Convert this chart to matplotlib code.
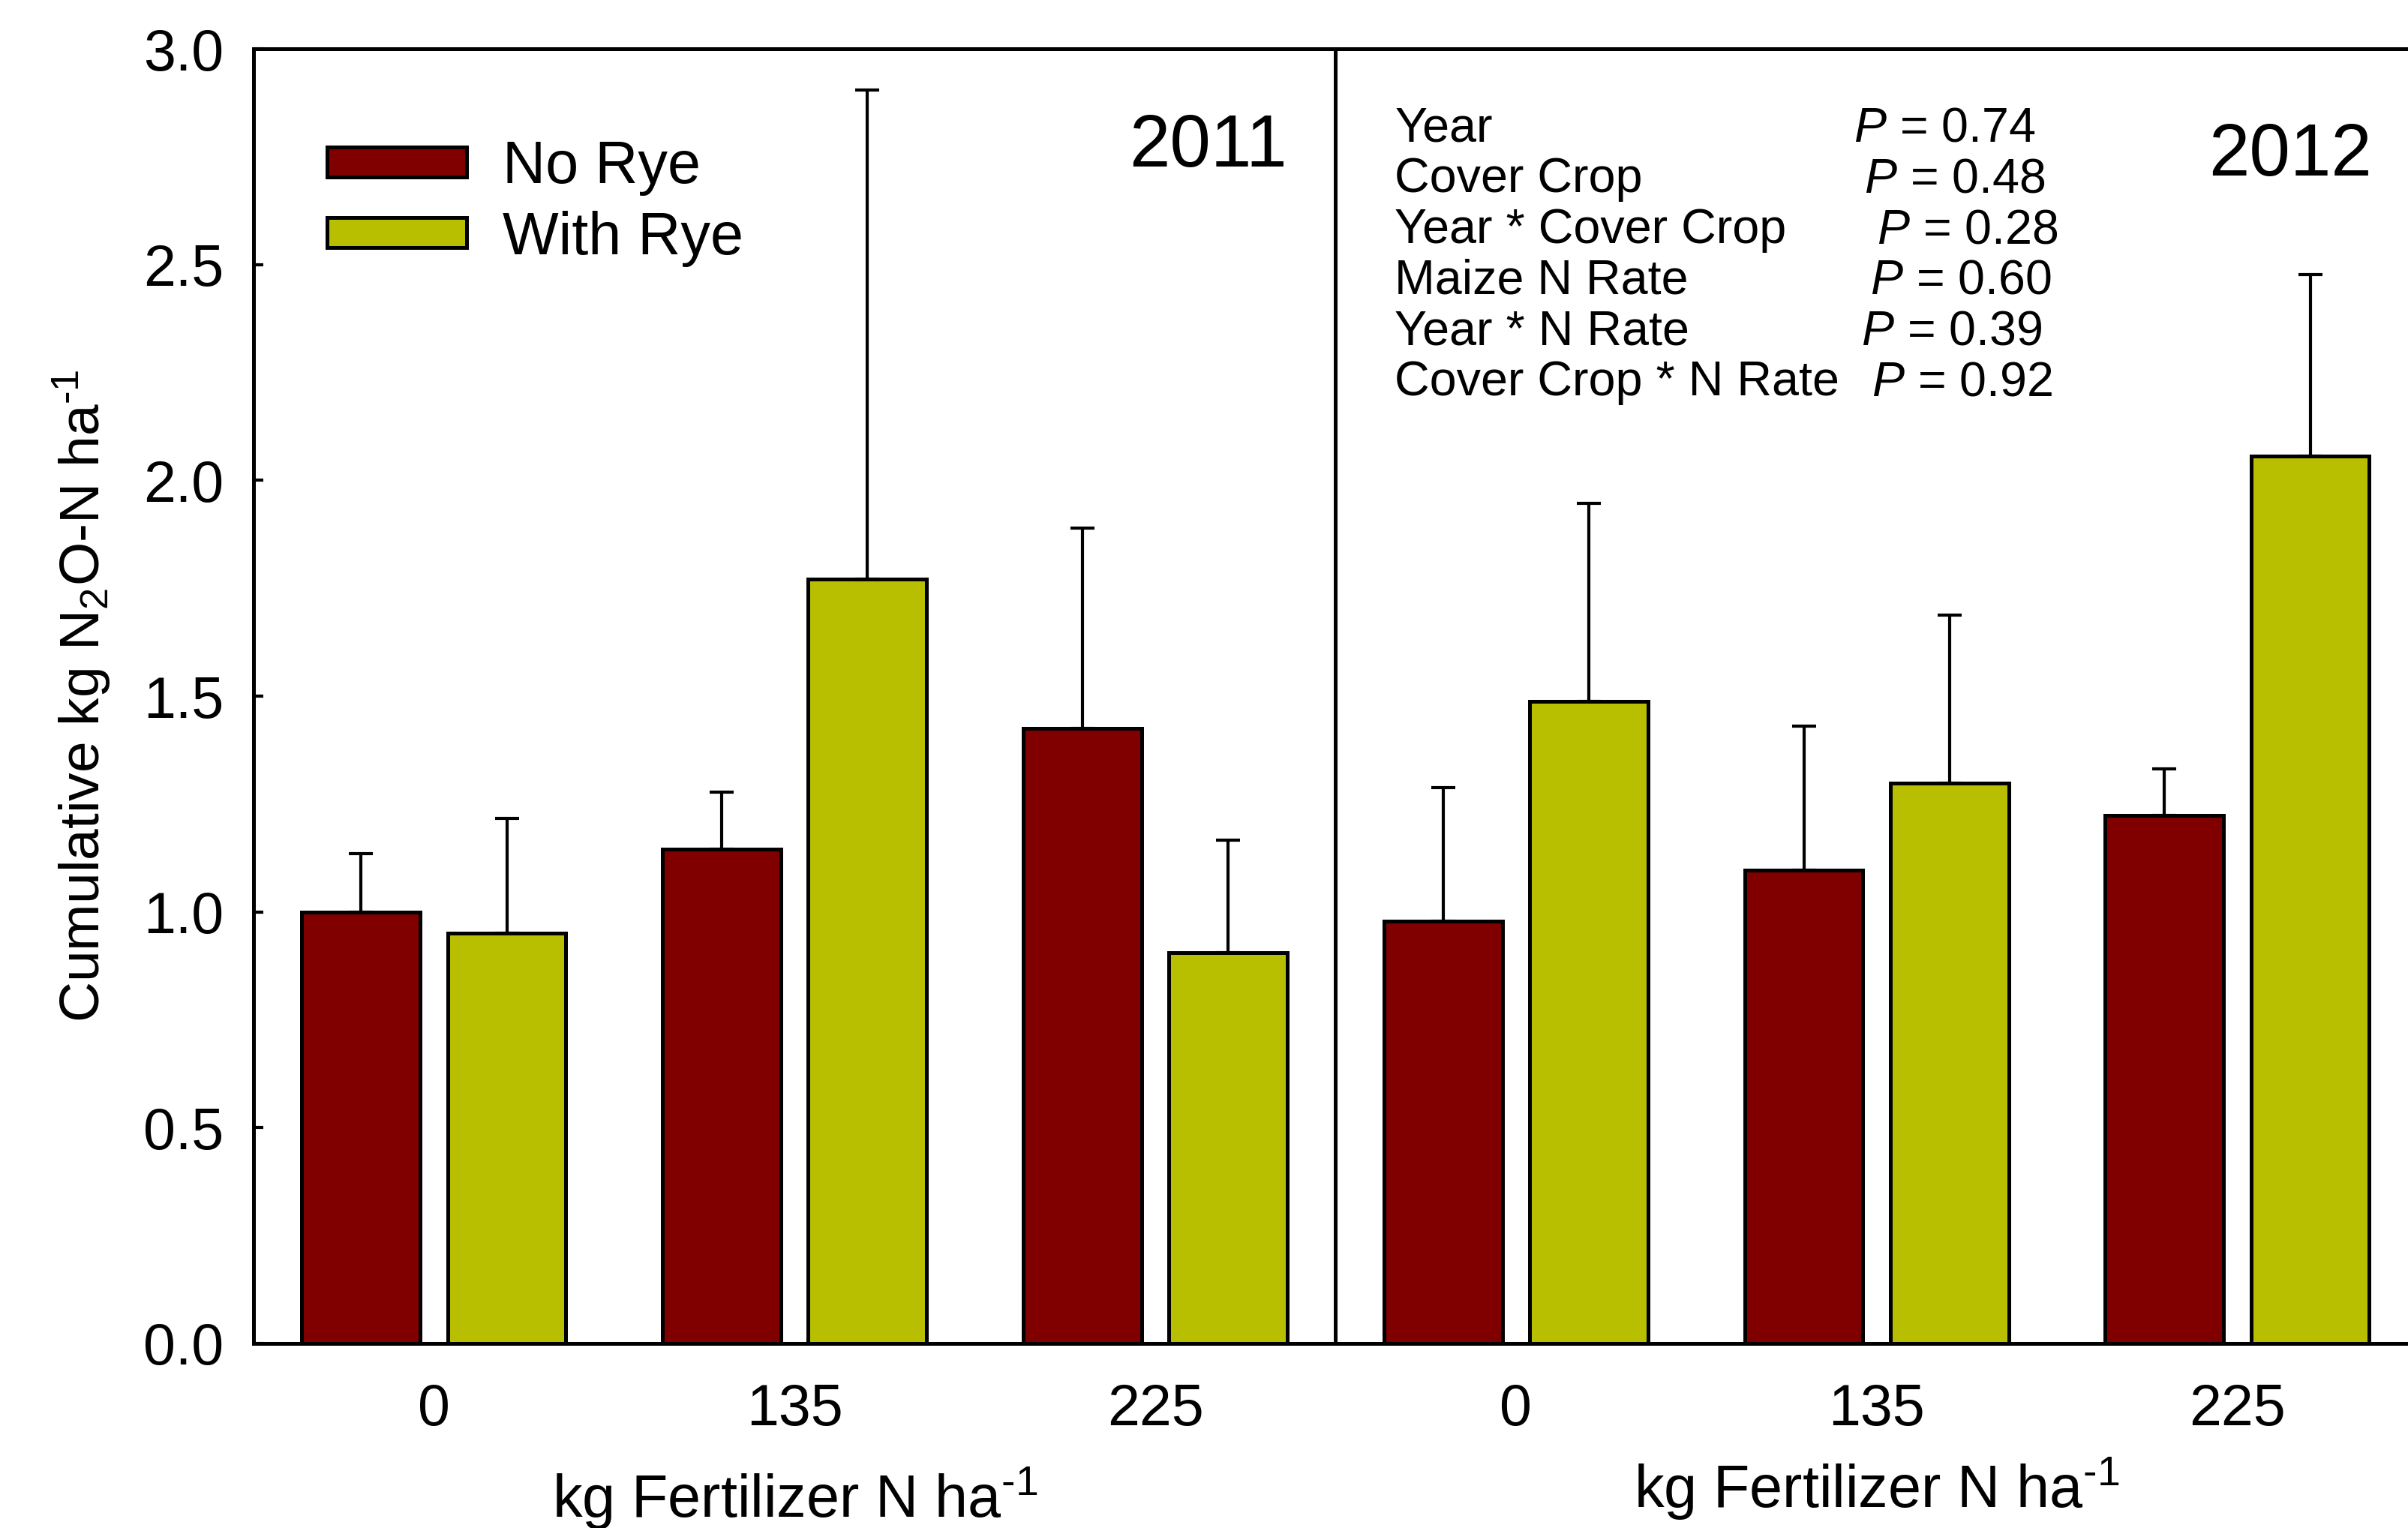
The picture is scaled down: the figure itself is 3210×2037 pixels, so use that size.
import numpy as np
import matplotlib
matplotlib.use("Agg")
import matplotlib.pyplot as plt

# N2O emissions by N rate, cover crop and year
n_rates = ["0", "135", "225", "0", "135", "225"]
years = ["2011", "2012"]
no_rye = [1.00, 1.145, 1.425, 0.979, 1.096, 1.224]
no_rye_se = [0.135, 0.133, 0.465, 0.309, 0.335, 0.107]
with_rye = [0.95, 1.772, 0.905, 1.488, 1.299, 2.057]
with_rye_se = [0.267, 1.132, 0.262, 0.459, 0.388, 0.420]

effects = ["Year", "Cover Crop", "Year * Cover Crop", "Maize N Rate",
           "Year * N Rate", "Cover Crop * N Rate"]
p_values = ["0.74", "0.48", "0.28", "0.60", "0.39", "0.92"]
p_xpos = [3.936, 3.966, 4.0, 3.983, 3.957, 3.987]

plt.rcParams['font.family'] = ['Liberation Sans', 'DejaVu Sans']
plt.rcParams['mathtext.fontset'] = 'custom'
plt.rcParams['mathtext.rm'] = 'Liberation Sans'
plt.rcParams['mathtext.it'] = 'Liberation Sans:italic'

fig = plt.figure(figsize=(10.7, 6.79), dpi=300)
ax = fig.add_axes([0.1053, 0.1208, 0.8987, 0.8472])

x = np.arange(len(n_rates))
width = 0.328
off = 0.202
c_no = '#800000'
c_with = '#B7BF00'

ax.bar(x - off, no_rye, width, color=c_no, edgecolor='black', linewidth=1.2,
       label='No Rye', zorder=3)
ax.bar(x + off, with_rye, width, color=c_with, edgecolor='black', linewidth=1.2,
       label='With Rye', zorder=3)
zeros = np.zeros(len(x))
ax.errorbar(x - off, no_rye, yerr=[zeros, no_rye_se], fmt='none', ecolor='black',
            elinewidth=1.0, capsize=3.9, capthick=1.0, zorder=2)
ax.errorbar(x + off, with_rye, yerr=[zeros, with_rye_se], fmt='none', ecolor='black',
            elinewidth=1.0, capsize=3.9, capthick=1.0, zorder=2)

ax.axvline(2.5, color='black', linewidth=1.2, zorder=4)

ax.set_xlim(-0.5, 5.5)
ax.set_ylim(0, 3.0)
ax.set_yticks(np.arange(0, 3.01, 0.5))
ax.set_yticklabels([f"{v:.1f}" for v in np.arange(0, 3.01, 0.5)])
ax.set_xticks(x)
ax.set_xticklabels(n_rates)
ax.tick_params(axis='x', length=0, pad=12.5, labelsize=18.5)
ax.tick_params(axis='y', direction='in', length=3.2, width=1.0, pad=9.5,
               labelsize=18.5, right=True)
for sp in ax.spines.values():
    sp.set_linewidth(1.2)

ax.set_ylabel(r"Cumulative kg N$_2$O-N ha$^{\text{-}1}$", fontsize=18, labelpad=10)

for xc, yy in [(1, -0.12), (4, -0.112)]:
    ax.text(xc, yy, r"kg Fertilizer N ha$^{\text{-}1}$", fontsize=19, ha='center',
            va='center', transform=ax.get_xaxis_transform())

ax.text(2.366, 2.772, years[0], fontsize=23.5, ha='right', va='center')
ax.text(5.374, 2.751, years[1], fontsize=23.5, ha='right', va='center')

for i, (eff, pv, px) in enumerate(zip(effects, p_values, p_xpos)):
    yy = 2.815 - i * 0.1177
    ax.text(2.664, yy, eff, fontsize=15.5, ha='left', va='center')
    ax.text(px, yy, r"$\it{P}$ = " + pv, fontsize=15.5, ha='left', va='center')

leg = ax.legend(loc='upper left', bbox_to_anchor=(0.034, 0.93), frameon=False,
                fontsize=19, handlelength=2.35, handleheight=0.4,
                handletextpad=0.6, labelspacing=0.25, borderpad=0, borderaxespad=0)

fig.savefig("out.png", dpi=300)
